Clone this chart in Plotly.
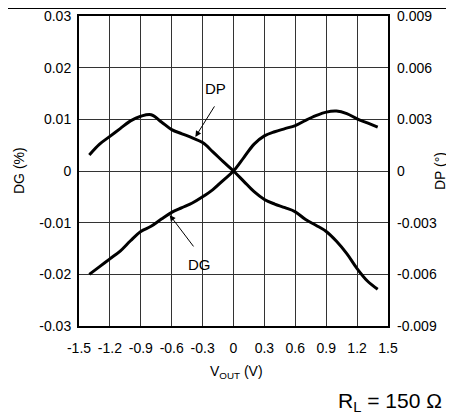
import plotly.graph_objects as go

# Data
vout = [-1.4, -1.3, -1.2, -1.1, -1.0, -0.9, -0.8, -0.7, -0.6, -0.5, -0.4, -0.3, -0.2, -0.1,
        0.0, 0.1, 0.2, 0.3, 0.4, 0.5, 0.6, 0.7, 0.8, 0.9, 1.0, 1.1, 1.2, 1.3, 1.4]
dg_pct = [-0.0200, -0.0185, -0.0170, -0.0155, -0.0135, -0.0117, -0.0107, -0.0093, -0.0080,
          -0.0071, -0.0062, -0.0050, -0.0036, -0.0018, 0.0, 0.0026, 0.0052, 0.0068, 0.0076,
          0.0082, 0.0088, 0.0098, 0.0107, 0.0114, 0.0116, 0.0111, 0.0101, 0.0093, 0.0085]
dp_deg = [0.00093, 0.00156, 0.00201, 0.00246, 0.00291, 0.00318, 0.00327, 0.00285, 0.00240,
          0.00216, 0.00192, 0.00165, 0.00111, 0.00054, 0.0, -0.00060, -0.00120, -0.00165,
          -0.00192, -0.00213, -0.00237, -0.00282, -0.00315, -0.00351, -0.00408, -0.00480,
          -0.00567, -0.00639, -0.00687]

x_ticks = [-1.5, -1.2, -0.9, -0.6, -0.3, 0, 0.3, 0.6, 0.9, 1.2, 1.5]
x_ticktext = ["-1.5", "-1.2", "-0.9", "-0.6", "-0.3", "0", "0.3", "0.6", "0.9", "1.2", "1.5"]
y_ticks = [-0.03, -0.02, -0.01, 0, 0.01, 0.02, 0.03]
y_ticktext = ["-0.03", "-0.02", "-0.01", "0", "0.01", "0.02", "0.03"]
y2_ticks = [-0.009, -0.006, -0.003, 0, 0.003, 0.006, 0.009]
y2_ticktext = ["-0.009", "-0.006", "-0.003", "0", "0.003", "0.006", "0.009"]

FONT = "Liberation Sans, Arial, sans-serif"
OFF = 8  # page body margin
W, H = 454 - OFF, 417 - OFF
L, R, T = 79 - OFF, 454 - 388, 16 - OFF
B = H - T - 310
PW, PH = W - L - R, H - T - B


def px(xp):
    return (xp - OFF - L) / PW


def py(yp):
    return (H - B - (yp - OFF)) / PH


fig = go.Figure()
fig.add_trace(go.Scatter(x=vout, y=dg_pct, mode="lines", line=dict(color="black", width=3, shape="spline"),
                         showlegend=False, hoverinfo="skip"))
fig.add_trace(go.Scatter(x=vout, y=dp_deg, mode="lines", line=dict(color="black", width=3, shape="spline"),
                         yaxis="y2", showlegend=False, hoverinfo="skip"))

fig.update_layout(
    width=W, height=H,
    margin=dict(l=L, r=R, t=T, b=B),
    paper_bgcolor="white", plot_bgcolor="white",
    font=dict(family=FONT, size=14, color="black"),
    xaxis=dict(range=[-1.5, 1.5], tickvals=x_ticks, ticktext=x_ticktext, showgrid=True,
               gridcolor="#333", gridwidth=1, zeroline=False, showline=True, linecolor="black",
               linewidth=2, mirror=True, ticks="", ticklabelstandoff=8, automargin=False,
               ticklabeloverflow="allow"),
    yaxis=dict(range=[-0.03, 0.03], tickvals=y_ticks, ticktext=y_ticktext, showgrid=True,
               gridcolor="#333", gridwidth=1, zeroline=False, showline=True, linecolor="black",
               linewidth=2, mirror=True, ticks="", ticklabelstandoff=3, automargin=False,
               ticklabeloverflow="allow"),
    yaxis2=dict(range=[-0.009, 0.009], tickvals=y2_ticks, ticktext=y2_ticktext, overlaying="y",
                side="right", showgrid=False, zeroline=False, ticks="", ticklabelstandoff=8,
                automargin=False, ticklabeloverflow="allow"),
)

# Axis titles
fig.add_annotation(x=px(236), y=py(372), xref="paper", yref="paper", xanchor="center", yanchor="middle",
                   text="V<sub>OUT</sub> (V)", showarrow=False, font=dict(size=14))
fig.add_annotation(x=px(19), y=py(171), xref="paper", yref="paper", xanchor="center", yanchor="middle",
                   text="DG (%)", showarrow=False, textangle=-90, font=dict(size=14))
fig.add_annotation(x=px(440), y=py(171), xref="paper", yref="paper", xanchor="center", yanchor="middle",
                   text="DP (°)", showarrow=False, textangle=-90, font=dict(size=14))

# Curve labels with arrows
fig.add_annotation(x=-0.37, y=0.0066, xref="x", yref="y", ax=20, ay=-32, text="",
                   showarrow=True, arrowhead=2, arrowsize=1.2, arrowwidth=1, arrowcolor="black")
fig.add_annotation(x=-0.17, y=0.0160, xref="x", yref="y", text="DP", showarrow=False,
                   font=dict(size=15))
fig.add_annotation(x=-0.62, y=-0.0085, xref="x", yref="y", ax=25, ay=33, text="",
                   showarrow=True, arrowhead=2, arrowsize=1.2, arrowwidth=1, arrowcolor="black")
fig.add_annotation(x=-0.33, y=-0.0181, xref="x", yref="y", text="DG", showarrow=False,
                   font=dict(size=15))

# Load condition note
fig.add_annotation(x=px(444), y=py(402), xref="paper", yref="paper", xanchor="right", yanchor="middle",
                   text="R<sub>L</sub> = 150 Ω", showarrow=False, font=dict(size=21))

# Thin frame line near the top of the page
fig.add_shape(type="line", xref="paper", yref="paper", x0=px(8), x1=px(454), y0=py(8.5), y1=py(8.5),
              line=dict(color="black", width=1))

fig.write_html("out.html")
